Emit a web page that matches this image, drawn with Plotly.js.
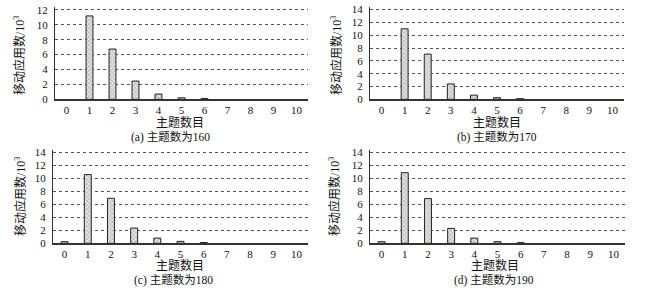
<!DOCTYPE html>
<html><head><meta charset="utf-8">
<script src="https://cdn.plot.ly/plotly-3.0.1.min.js"></script>
<style>html,body{margin:0;padding:0;background:#fff}#c{width:657px;height:292px}</style>
</head><body><div id="c"></div>
<script>
const categories = [0,1,2,3,4,5,6,7,8,9,10];
const values160 = [0, 11.2, 6.75, 2.45, 0.7, 0.2, 0.1, 0, 0, 0, 0];
const values170 = [0, 11.0, 7.05, 2.4, 0.65, 0.25, 0.1, 0, 0, 0, 0];
const values180 = [0.25, 10.6, 6.95, 2.35, 0.8, 0.3, 0.12, 0, 0, 0, 0];
const values190 = [0.25, 10.9, 6.9, 2.3, 0.8, 0.25, 0.1, 0, 0, 0, 0];
const captions = ['(a) 主题数为160','(b) 主题数为170','(c) 主题数为180','(d) 主题数为190'];
const xTitle = '主题数目';
const yTitle = '移动应用数/10<sup>3</sup>';

const W = 657, H = 292;
const FONT = 'Liberation Serif, Noto Sans CJK SC, serif';
const series = [values160, values170, values180, values190];
// panel geometry in pixels: [x0, x1, yBottom, yTop]
const geo = [[55,308,99.3,7],[370,624,99.3,7],[53,308,243.3,150],[370,625,243.3,150]];
const yMax = [12.4, 14.4, 14.4, 14.4];
const ytickvals = [[0,2,4,6,8,10,12],[0,2,4,6,8,10,12,14],[0,2,4,6,8,10,12,14],[0,2,4,6,8,10,12,14]];
const xTitlePos = [[180,122.5],[497,122.5],[180,265],[495,265]];
const capPos = [[170,137.5],[497,137.5],[173,280],[494,280]];
const yTitlePos = [[20,55],[337,55],[20,196],[334,196]];

const traces = [], annotations = [];
const layout = {width:W, height:H, margin:{l:0,r:0,t:0,b:0}, showlegend:false,
  paper_bgcolor:'#fff', plot_bgcolor:'#fff', font:{family:FONT, size:11, color:'#111'}};
series.forEach((vals,i)=>{
  const s = i===0 ? '' : String(i+1);
  traces.push({type:'bar', x:categories, y:vals, xaxis:'x'+s, yaxis:'y'+s, width:0.3,
    marker:{color:'#ddd', line:{color:'#222', width:vals.map(v=>v>0?1:0)},
      pattern:{shape:'x', size:3, solidity:0.3, fgcolor:'#999', bgcolor:'#e4e4e4'}},
    hoverinfo:'skip'});
  const g = geo[i];
  layout['xaxis'+s] = {domain:[g[0]/W, g[1]/W], anchor:'y'+s, range:[-0.5,10.5],
    tickvals:categories, ticktext:categories.map(String), showgrid:false, zeroline:false,
    showline:true, linecolor:'#333', linewidth:1.5, ticks:'', tickfont:{size:11, family:FONT, color:'#111'},
    fixedrange:true};
  layout['yaxis'+s] = {domain:[1-g[2]/H, 1-g[3]/H], anchor:'x'+s, range:[0,yMax[i]],
    tickvals:ytickvals[i], showgrid:true, gridcolor:'#555', griddash:'dot', gridwidth:1,
    zeroline:false, showline:true, linecolor:'#333', linewidth:1, ticks:'',
    tickfont:{size:11, family:FONT, color:'#111'}, ticklabelstandoff:4, fixedrange:true};
  annotations.push({xref:'paper', yref:'paper', x:xTitlePos[i][0]/W, y:1-xTitlePos[i][1]/H,
    text:xTitle, showarrow:false, xanchor:'center', yanchor:'middle', font:{size:12, family:FONT, color:'#111'}});
  annotations.push({xref:'paper', yref:'paper', x:capPos[i][0]/W, y:1-capPos[i][1]/H,
    text:captions[i], showarrow:false, xanchor:'center', yanchor:'middle', font:{size:11.5, family:FONT, color:'#111'}});
  annotations.push({xref:'paper', yref:'paper', x:yTitlePos[i][0]/W, y:1-yTitlePos[i][1]/H,
    text:yTitle, showarrow:false, textangle:-90, xanchor:'center', yanchor:'middle', font:{size:12, family:FONT, color:'#111'}});
});
layout.annotations = annotations;
Plotly.newPlot('c', traces, layout, {displayModeBar:false, staticPlot:true});
</script></body></html>
